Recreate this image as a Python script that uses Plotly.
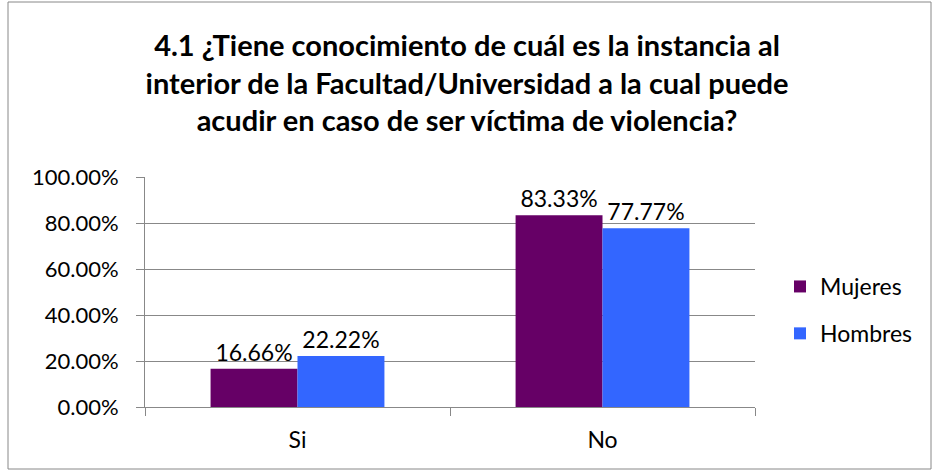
import plotly.graph_objects as go

categories = ["Si", "No"]
mujeres = [0.1666, 0.8333]
hombres = [0.2222, 0.7777]
series_names = ["Mujeres", "Hombres"]
title_text = ("4.1 ¿Tiene conocimiento de cuál es la instancia al<br>"
              "interior de la Facultad/Universidad a la cual puede<br>"
              "acudir en caso de ser víctima de violencia?")

W, H = 934, 472
L, R, T, B = 145, 179, 177, 65
font = "Lato, 'Open Sans', sans-serif"

fig = go.Figure()
for i, (name, vals, col) in enumerate([(series_names[0], mujeres, "#660066"),
                                       (series_names[1], hombres, "#3366FF")]):
    fig.add_trace(go.Bar(
        x=categories, y=vals, name=name, legendgroup=f"g{i}",
        marker=dict(color=col, line=dict(width=0)),
        text=[f"{v*100:.2f}%" for v in vals], textposition="outside",
        textfont=dict(size=23, color="black", family=font), cliponaxis=False,
    ))

pw = W - L - R
ph = H - T - B
def px_x(x): return (x - L) / pw
def px_y(y): return (H - B - y) / ph

fig.update_layout(
    width=W, height=H,
    margin=dict(l=L, r=R, t=T, b=B),
    paper_bgcolor="white", plot_bgcolor="white",
    barmode="group", bargap=0.43, bargroupgap=0,
    font=dict(family=font, size=23, color="black"),
    title=dict(text=title_text, x=0.5, xref="container", xanchor="center",
               y=1 - 56 / H, yref="container", yanchor="top",
               font=dict(size=29, family=font, color="black", weight="bold")),
    legend=dict(x=px_x(780), xanchor="left", y=px_y(310), yanchor="middle",
                font=dict(size=23, family=font), itemwidth=30,
                traceorder="grouped", tracegroupgap=14,
                bgcolor="rgba(0,0,0,0)"),
    xaxis=dict(showline=True, linecolor="#888888", linewidth=1, ticks="outside",
               tickson="boundaries", ticklen=8, tickcolor="#888888",
               tickfont=dict(size=23), showgrid=False, ticklabelstandoff=12),
    yaxis=dict(range=[0, 1], dtick=0.2, tickformat=".2%", showgrid=True,
               gridcolor="#888888", gridwidth=1, showline=True, linecolor="#888888",
               ticks="outside", ticklen=8, tickcolor="#888888", tickfont=dict(size=22),
               zeroline=False, ticklabelstandoff=13),
    shapes=[dict(type="rect", xref="paper", yref="paper",
                 x0=px_x(8), x1=px_x(931), y0=px_y(469), y1=px_y(2),
                 line=dict(color="#888888", width=1))],
)

fig.write_html("out.html", config={"displayModeBar": False},
               post_script="document.body.style.margin='0';")
